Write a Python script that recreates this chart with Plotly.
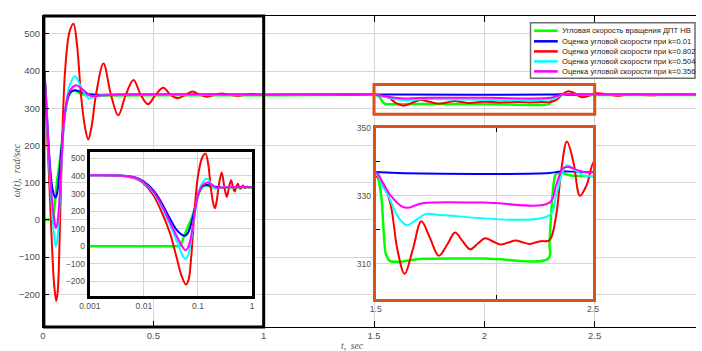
import plotly.graph_objects as go

# ---------------------------------------------------------------------------
# Angular speed of the DC motor (independent excitation) and its estimates
# for several observer gains k, rad/sec
# ---------------------------------------------------------------------------
series_names = [
    "Угловая скорость вращения ДПТ НВ",
    "Оценка угловой скорости при k=0.01",
    "Оценка угловой скорости при k=0.802",
    "Оценка угловой скорости при k=0.504",
    "Оценка угловой скорости при k=0.356",
]
series_colors = ["#00ff00", "#0000ff", "#ff0000", "#00ffff", "#ff00ff"]

t_green = [0.001, 0.01, 0.02, 0.03, 0.04, 0.045, 0.05, 0.055, 0.065, 0.075, 0.085,
           0.1, 0.115, 0.13, 0.145, 0.165, 0.19, 0.23, 0.3, 0.6, 1.0,
           1.5, 1.508, 1.518, 1.527, 1.537, 1.548, 1.565, 1.6, 1.66, 1.72, 2.0,
           2.295, 2.3, 2.31, 2.32, 2.33, 2.35, 2.4, 2.5, 2.7, 2.96]
w_green = [0, 0, 0, 0, 0, 0, 20, 55, 110, 152, 205,
           285, 330, 345, 347, 341, 336, 334, 334.5, 335, 335,
           336, 335.5, 333, 329, 319, 312.5, 310.8, 310.5, 311, 311.4, 311.5,
           311.5, 316, 327, 334, 336.5, 336.8, 336, 335.8, 335.8, 335.8]

t_k001 = [0.001, 0.004, 0.007, 0.01, 0.015, 0.02, 0.03, 0.04, 0.05, 0.057, 0.065,
          0.075, 0.085, 0.1, 0.115, 0.13, 0.15, 0.175, 0.21, 0.26, 0.35, 1.0,
          1.5, 1.6, 2.3, 2.35, 2.45, 2.96]
w_k001 = [404, 402, 392, 368, 318, 262, 160, 95, 66, 60, 75,
          130, 200, 290, 333, 346, 348, 343, 338, 336.5, 337, 337,
          337, 336.7, 336.7, 337.2, 337, 337]

t_k0802 = [0.001, 0.004, 0.007, 0.01, 0.015, 0.02, 0.03, 0.04, 0.05, 0.06, 0.067,
           0.075, 0.085, 0.1, 0.12, 0.138, 0.155, 0.172, 0.19, 0.205, 0.22, 0.24,
           0.274, 0.308, 0.341, 0.375, 0.41, 0.443, 0.476, 0.51, 0.545, 0.578,
           0.612, 0.645, 0.678, 0.711, 0.745, 0.778, 0.81, 0.845, 0.88, 0.915,
           0.95, 1.0, 1.1, 1.5, 1.54, 1.57, 1.6, 1.633, 1.67, 1.71, 1.75, 1.79,
           1.83, 1.865, 1.9, 1.935, 1.97, 2.004, 2.04, 2.074, 2.11, 2.144, 2.175,
           2.208, 2.235, 2.26, 2.3, 2.33, 2.355, 2.38, 2.41, 2.44, 2.47, 2.51,
           2.56, 2.6, 2.64, 2.68, 2.72, 2.76, 2.8, 2.88, 2.96]
w_k0802 = [404, 400, 385, 355, 290, 215, 80, -60, -170, -218, -190,
           -60, 170, 400, 505, 527, 465, 336, 250, 216, 250, 336,
           420, 336, 281, 336, 376, 336, 311, 336, 355, 336,
           327, 336, 345, 336, 331, 336, 340, 336, 333.5, 336,
           338, 335.5, 336.3, 336, 333, 327, 314, 307, 314, 322.5, 317.5, 312.3,
           315.7, 319.2, 316.6, 314.2, 315.9, 317.5, 316.5, 315.6, 316.2, 316.8, 316.3,
           315.8, 316.2, 316.6, 316.9, 324, 338, 346, 340, 330, 333, 340.5,
           337, 333.5, 336, 338.5, 336, 334.8, 336.5, 336.8, 336.3]

t_k0504 = [0.001, 0.004, 0.007, 0.01, 0.015, 0.02, 0.03, 0.04, 0.05, 0.058, 0.065,
           0.075, 0.085, 0.1, 0.12, 0.145, 0.17, 0.205, 0.24, 0.28, 0.35, 1.0,
           1.5, 1.53, 1.558, 1.6, 1.643, 1.68, 1.73, 1.8, 2.3, 2.33, 2.36, 2.38,
           2.42, 2.46, 2.55, 2.96]
w_k0504 = [404, 401, 388, 360, 305, 240, 125, 35, -40, -72, -55,
           40, 160, 290, 360, 386, 360, 327, 332, 337, 335.5, 336,
           336.5, 333, 330, 324, 321.3, 322.6, 324.6, 324.3, 324.3, 330, 337, 339,
           337.5, 336, 336, 336]

t_k0356 = [0.001, 0.004, 0.007, 0.01, 0.015, 0.02, 0.03, 0.04, 0.05, 0.058, 0.065,
           0.075, 0.085, 0.1, 0.12, 0.15, 0.18, 0.22, 0.26, 0.32, 1.0,
           1.5, 1.53, 1.57, 1.62, 1.65, 1.7, 1.76, 2.0, 2.3, 2.33, 2.36, 2.385,
           2.42, 2.46, 2.55, 2.96]
w_k0356 = [404, 401, 390, 363, 310, 250, 140, 60, 5, -22, -10,
           60, 170, 290, 345, 362, 350, 333, 334, 336, 336.5,
           337, 334, 330, 326.9, 326.5, 327.6, 328, 328, 328, 333, 338, 338.5,
           337.8, 337, 337, 337]

series_t = [t_green, t_k001, t_k0802, t_k0504, t_k0356]
series_w = [w_green, w_k001, w_k0802, w_k0504, w_k0356]
series_width = [2.5, 2, 2, 2, 2]

main_xticks = [0, 0.5, 1, 1.5, 2, 2.5]
main_yticks = [-200, -100, 0, 100, 200, 300, 400, 500]
log_xticks = [0.001, 0.01, 0.1, 1]
log_xlabels = ["0.001", "0.01", "0.1", "1"]
zoom_xticks = [1.5, 2.057, 2.5]
zoom_xlabels = ["1.5", "", "2.5"]
zoom_yticks = [310, 330, 350]
zoom_yminor = [320, 340]

# ---------------------------------------------------------------------------
W, H = 702, 351
L, R, T, B = 43, 0, 16, 24
PW, PH = W - L - R, H - T - B


def fx(px):
    return (px - L) / PW


def fy(py):
    return (H - B - py) / PH


ORANGE = "#d95319"
GRID = "#d6d6d6"
TICK_FONT = dict(family="Liberation Sans, Arial, sans-serif", size=9.5, color="#505050")
SMALL_FONT = dict(family="Liberation Sans, Arial, sans-serif", size=8.5, color="#505050")

fig = go.Figure()
for xa, ya in (("x", "y"), ("x2", "y2"), ("x3", "y3")):
    for name, color, t, w, lw in zip(series_names, series_colors, series_t, series_w, series_width):
        fig.add_trace(go.Scatter(
            x=t, y=w, mode="lines", name=name,
            line=dict(color=color, width=lw, shape="spline", smoothing=1),
            xaxis=xa, yaxis=ya, showlegend=False, hoverinfo="skip",
        ))

fig.update_layout(
    width=W, height=H,
    margin=dict(l=L, r=R, t=T, b=B, pad=0),
    paper_bgcolor="white", plot_bgcolor="white",
    showlegend=False,
    xaxis=dict(domain=[0, 1], range=[0, 2.959], tickvals=main_xticks,
               ticktext=[f"{v:g}" for v in main_xticks],
               ticks="inside", ticklen=6, tickcolor="black", showline=True,
               linecolor="black", linewidth=1, mirror="ticks",
               showgrid=True, gridcolor=GRID, gridwidth=1, zeroline=False,
               tickfont=TICK_FONT, anchor="y"),
    yaxis=dict(domain=[0, 1], range=[-288, 548], tickvals=main_yticks,
               ticks="inside", ticklen=6, tickcolor="black", showline=True,
               linecolor="black", linewidth=1,
               showgrid=True, gridcolor=GRID, gridwidth=1, zeroline=False,
               tickfont=TICK_FONT, anchor="x"),
    # logarithmic view of the start-up
    xaxis2=dict(domain=[fx(90.2), fx(254.0)], type="log", range=[-3, 0],
                tickvals=log_xticks, ticktext=log_xlabels,
                ticks="", showline=True, linecolor="black", linewidth=3, mirror=True,
                showgrid=True, gridcolor=GRID, zeroline=False,
                tickfont=SMALL_FONT, anchor="y2"),
    yaxis2=dict(domain=[fy(295.7), fy(152.2)], range=[-281, 535], tickvals=main_yticks,
                ticks="", showline=True, linecolor="black", linewidth=3, mirror=True,
                showgrid=True, gridcolor=GRID, zeroline=False,
                tickfont=SMALL_FONT, anchor="x2"),
    # zoom of the load step
    xaxis3=dict(domain=[fx(378.8), fx(598.0)], range=[1.5, 2.5], tickvals=zoom_xticks,
                ticktext=zoom_xlabels,
                ticks="inside", ticklen=4, tickcolor="black",
                showline=True, linecolor=ORANGE, linewidth=3, mirror="ticks",
                showgrid=True, gridcolor=GRID, zeroline=False,
                tickfont=SMALL_FONT, anchor="y3"),
    yaxis3=dict(domain=[fy(298.8), fy(127.7)], range=[299.6, 350.1], tickvals=zoom_yticks,
                ticks="", showline=True, linecolor=ORANGE, linewidth=3, mirror=True,
                minor=dict(tickvals=zoom_yminor, ticks="inside", ticklen=4,
                           tickcolor="black", showgrid=False),
                showgrid=True, gridcolor=GRID, zeroline=False,
                tickfont=SMALL_FONT, anchor="x3"),
)

shapes = [
    # frame of the start-up interval
    dict(type="rect", xref="x", yref="paper", x0=0.004, x1=1.0, y0=0, y1=1,
         line=dict(color="black", width=3), layer="above"),
    # frame of the load-step interval
    dict(type="rect", xref="x", yref="y", x0=1.5, x1=2.5, y0=284, y1=364,
         line=dict(color=ORANGE, width=3), layer="above"),
    # legend box
    dict(type="rect", xref="paper", yref="paper", x0=fx(535), x1=fx(701),
         y0=fy(78.3), y1=fy(22.7), fillcolor="white",
         line=dict(color="#6f6f6f", width=1.5), layer="above"),
]

annotations = [
    dict(text="<i>t,  sec</i>", xref="paper", yref="paper", x=fx(355), y=fy(346),
         showarrow=False, xanchor="center", yanchor="middle",
         font=dict(family="Liberation Serif, serif", size=9.5, color="#505050")),
    dict(text="<i>ω(t),  rad/sec</i>", xref="paper", yref="paper", x=fx(17), y=fy(170),
         showarrow=False, xanchor="center", yanchor="middle", textangle=-90,
         font=dict(family="Liberation Serif, serif", size=10, color="#505050")),
]

legend_rows = [30.7, 41.3, 51.4, 61.4, 71.4]
for name, color, row in zip(series_names, series_colors, legend_rows):
    shapes.append(dict(type="line", xref="paper", yref="paper", x0=fx(538.5), x1=fx(562.5),
                       y0=fy(row), y1=fy(row), line=dict(color=color, width=2.5), layer="above"))
    annotations.append(dict(text=name, xref="paper", yref="paper", x=fx(564.5), y=fy(row),
                            showarrow=False, xanchor="left", yanchor="middle",
                            font=dict(family="Liberation Sans, Arial, sans-serif",
                                      size=7.6, color="#1a1a1a")))

fig.update_layout(shapes=shapes, annotations=annotations)
fig.write_html("out.html")
